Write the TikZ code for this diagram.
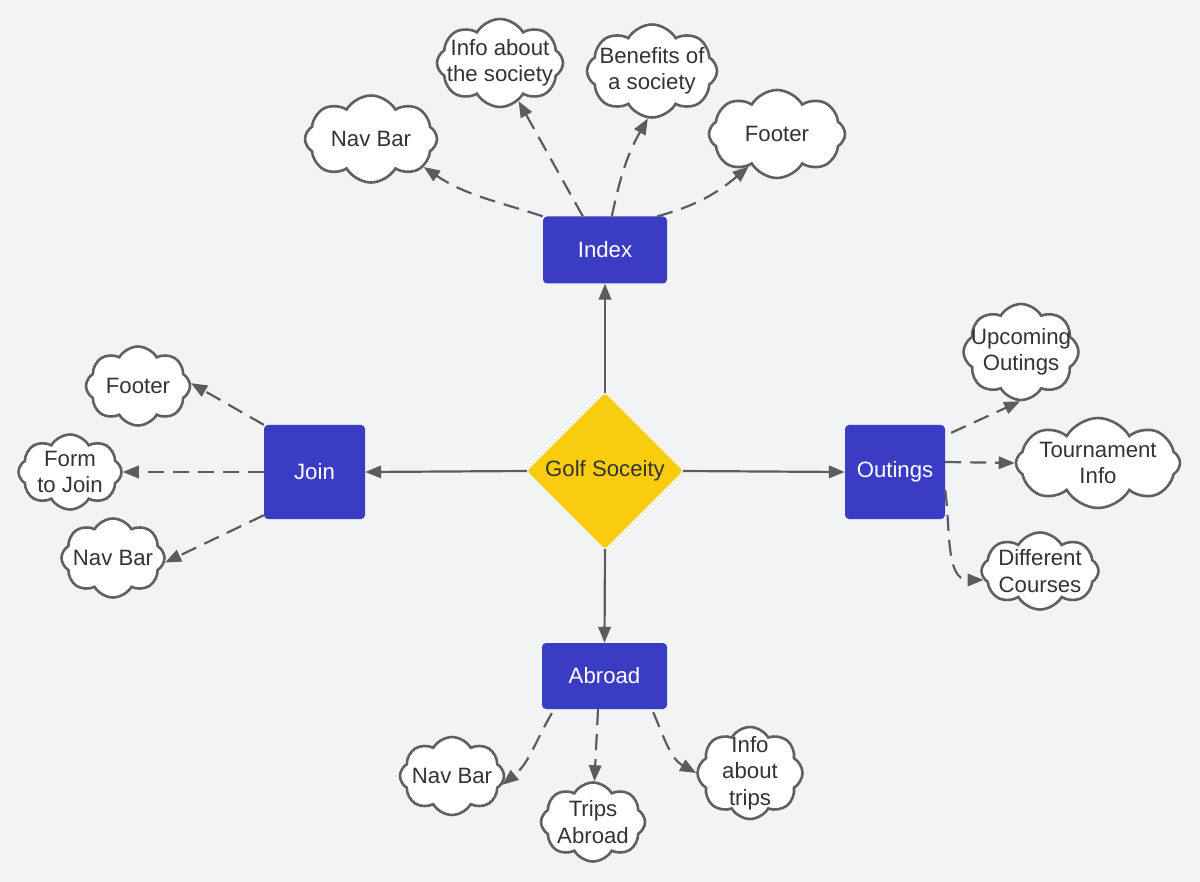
\documentclass[tikz,border=0pt]{standalone}
\usepackage{fontspec}
\setmainfont{Liberation Sans}
\usetikzlibrary{shapes.symbols,shapes.geometric,arrows.meta}
\definecolor{bg}{HTML}{F2F3F5}
\definecolor{boxblue}{HTML}{3A3DC4}
\definecolor{gold}{HTML}{FACD0C}
\definecolor{txt}{HTML}{333333}
\definecolor{linegray}{HTML}{5C5C5C}
\definecolor{cloudgray}{HTML}{606060}
\begin{document}
\begin{tikzpicture}[x=1pt,y=-1pt,
  font=\fontsize{22.2}{26.5}\selectfont,
  pagebox/.style={rectangle, rounded corners=4pt, fill=boxblue, text=white, inner sep=0pt},
  idea/.style={cloud, cloud puffs=8, cloud puff arc=120, cloud ignores aspect, draw=cloudgray, line width=2.6pt, fill=white, inner sep=0pt},
  lbl/.style={text=txt, align=center, inner sep=0pt},
  link/.style={draw=linegray, line width=2.2pt, -{Triangle[length=16pt,width=12.5pt]}},
  dlink/.style={link, dash pattern=on 16pt off 9pt},
]
\fill[bg] (0,0) rectangle (1200,882);
\useasboundingbox (0,0) rectangle (1200,882);

% central and page nodes
\node[diamond, fill=gold, minimum width=156pt, minimum height=156pt, inner sep=0pt, text=txt, rounded corners=3pt] (gs) at (605,471) {Golf Soceity};
\node[pagebox, minimum width=124pt, minimum height=67pt] (idx) at (605,250) {Index};
\node[pagebox, minimum width=101pt, minimum height=94pt] (join) at (314.5,472) {Join};
\node[pagebox, minimum width=100pt, minimum height=94pt] (out) at (895,472) {Outings};
\node[pagebox, minimum width=125pt, minimum height=66pt] (abr) at (604.5,676) {Abroad};

% clouds
\node[idea, minimum width=132pt, minimum height=87pt, label={[lbl]center:{Nav Bar}}] (inav) at (371,139) {};
\node[idea, minimum width=126pt, minimum height=88pt, label={[lbl]center:{Info about\\the society}}] (iinfo) at (500,63) {};
\node[idea, minimum width=130pt, minimum height=93pt, label={[lbl]center:{Benefits of\\a society}}] (iben) at (652,71) {};
\node[idea, minimum width=136pt, minimum height=88pt, label={[lbl]center:{Footer}}] (ifoot) at (777,134) {};
\node[idea, minimum width=104pt, minimum height=79pt, label={[lbl]center:{Footer}}] (jfoot) at (138,386) {};
\node[idea, minimum width=103pt, minimum height=75pt, label={[lbl]center:{Form\\to Join}}] (jform) at (70,472) {};
\node[idea, minimum width=103pt, minimum height=79pt, label={[lbl]center:{Nav Bar}}] (jnav) at (113,558) {};
\node[idea, minimum width=115pt, minimum height=96pt, label={[lbl]center:{Upcoming\\Outings}}] (oup) at (1021,352) {};
\node[idea, minimum width=164pt, minimum height=90pt, label={[lbl]center:{Tournament\\Info}}] (otour) at (1098,463) {};
\node[idea, minimum width=117pt, minimum height=77pt, label={[lbl]center:{Different\\Courses}}] (odiff) at (1040,571) {};
\node[idea, minimum width=104pt, minimum height=78pt, label={[lbl]center:{Nav Bar}}] (anav) at (452,776) {};
\node[idea, minimum width=104pt, minimum height=79pt, label={[lbl]center:{Trips\\Abroad}}] (atrip) at (593,822) {};
\node[idea, minimum width=105pt, minimum height=92pt, label={[lbl]center:{Info\\about\\trips}}] (ainfo) at (750,773) {};

% solid connectors
\draw[link] (gs.north) -- (idx.south);
\draw[link] (gs.west) -- (join.east);
\draw[link] (gs.east) -- (out.west);
\draw[link] (gs.south) -- (abr.north);

% index
\draw[dlink] (idx.north west) to[out=162,in=-34] (inav.-28);
\draw[dlink] ([xshift=40pt]idx.north west) -- (iinfo.-64);
\draw[dlink] ([xshift=69pt]idx.north west) to[out=78,in=-120] (iben.-95);
\draw[dlink] ([xshift=-10pt]idx.north east) to[out=15,in=-140] (ifoot.-131);

% join
\draw[dlink] (join.north west) -- (jfoot.3);
\draw[dlink] (join.west) -- (jform.east);
\draw[dlink] ([yshift=4pt]join.south west) -- (jnav.-5);

% outings
\draw[dlink] ([xshift=6pt,yshift=-8pt]out.north east) -- (oup.-91);
\draw[dlink] ([yshift=10pt]out.east) -- (otour.west);
\draw[dlink] ([yshift=-18pt]out.east) to[out=-82,in=180] (odiff.-171);

% abroad
\draw[dlink] ([xshift=10pt,yshift=-4pt]abr.south west) to[out=-120,in=39] (anav.-10);
\draw[dlink] ([xshift=-6.5pt]abr.south) -- (atrip.88);
\draw[dlink] ([xshift=-14pt,yshift=-3pt]abr.south east) to[out=-67,in=151] (ainfo.west);
\end{tikzpicture}
\end{document}
